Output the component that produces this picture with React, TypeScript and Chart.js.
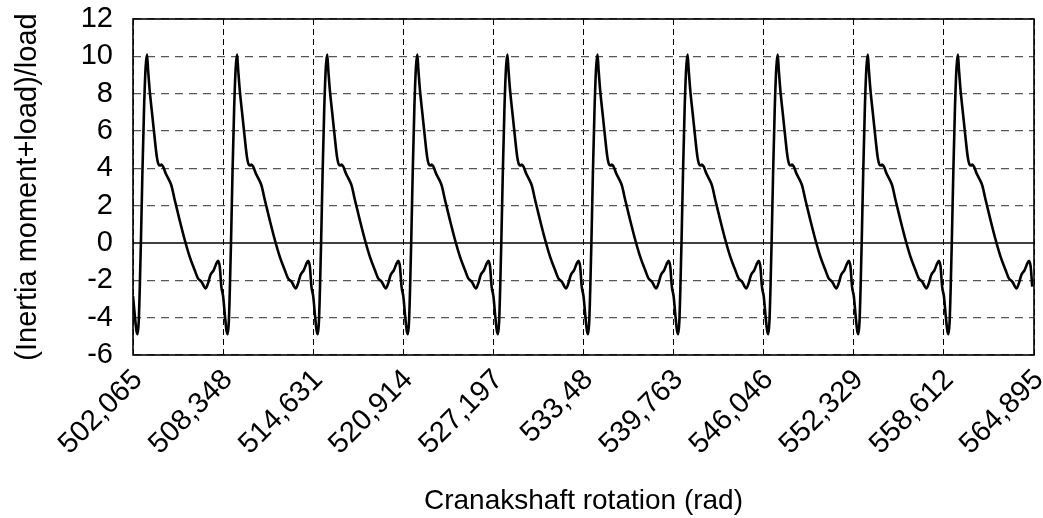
import { useEffect, useRef } from "react";
import { Chart, registerables } from "chart.js";

Chart.register(...registerables);

// X axis tick positions (rad) and their printed labels
const tickValues = [502.065, 508.348, 514.631, 520.914, 527.197, 533.48, 539.763, 546.046, 552.329, 558.612, 564.895];
const tickLabels = ["502,065", "508,348", "514,631", "520,914", "527,197", "533,48", "539,763", "546,046", "552,329", "558,612", "564,895"];

// Y axis ticks
const yTicks = [-6, -4, -2, 0, 2, 4, 6, 8, 10, 12];

// Start of each crankshaft cycle (rad)
const cycleStarts = [502.065, 508.348, 514.631, 520.914, 527.197, 533.48, 539.763, 546.046, 552.329, 558.612];

const cycleOffsets = [0, 0.14, 0.24, 0.32, 0.4, 0.48, 0.55, 0.66, 0.77, 0.88, 0.976, 1.05, 1.16, 1.33, 1.5, 1.66, 1.79, 1.9, 1.98, 2.09, 2.28, 2.51, 2.68, 2.91, 3.26, 3.61, 3.95, 4.3, 4.53, 4.77, 5.07, 5.23, 5.4, 5.63, 5.77, 5.93, 6.05, 6.16];
const cycleValues = [-2.85, -4.0, -4.7, -4.88, -4.2, -2.2, 0, 3.9, 7.2, 9.4, 10.1, 9.3, 8.2, 6.95, 5.7, 4.63, 4.2, 4.15, 4.2, 4.1, 3.73, 3.38, 3.07, 2.3, 1.2, 0.16, -0.73, -1.45, -1.89, -2.07, -2.43, -2.16, -1.71, -1.45, -1.18, -0.95, -1.27, -2.34];

const xTitle = "Cranakshaft rotation (rad)";
const yTitle = "(Inertia moment+load)/load";

const FONT = "'Liberation Sans', Arial, Helvetica, sans-serif";

const framePlugin = {
  id: "frameAndZero",
  beforeDatasetsDraw(chart: any) {
    const { ctx, chartArea, scales } = chart;
    const y0 = scales.y.getPixelForValue(0);
    ctx.save();
    ctx.strokeStyle = "#000";
    ctx.lineWidth = 1.3;
    ctx.setLineDash([]);
    ctx.beginPath();
    ctx.moveTo(chartArea.left, y0);
    ctx.lineTo(chartArea.right, y0);
    ctx.stroke();
    ctx.restore();
  },
  afterDatasetsDraw(chart: any) {
    const { ctx, chartArea } = chart;
    ctx.save();
    ctx.strokeStyle = "#000";
    ctx.lineWidth = 1.6;
    ctx.setLineDash([]);
    ctx.strokeRect(chartArea.left, chartArea.top, chartArea.right - chartArea.left, chartArea.bottom - chartArea.top);
    ctx.restore();
  },
};

export default function App() {
  const canvasRef = useRef<HTMLCanvasElement | null>(null);

  useEffect(() => {
    document.body.style.margin = "0";
    const points: { x: number; y: number }[] = [];
    cycleStarts.forEach((start) => {
      cycleOffsets.forEach((off, i) => {
        points.push({ x: start + off, y: cycleValues[i] });
      });
    });

    const chart = new Chart(canvasRef.current as HTMLCanvasElement, {
      type: "line",
      data: {
        datasets: [
          {
            data: points,
            borderColor: "#000",
            borderWidth: 2.6,
            pointRadius: 0,
            cubicInterpolationMode: "monotone",
            fill: false,
          },
        ],
      },
      options: {
        animation: false,
        responsive: true,
        maintainAspectRatio: false,
        parsing: false,
        layout: { padding: { top: 19, right: 9, left: 0, bottom: 0 } },
        plugins: { legend: { display: false }, tooltip: { enabled: false } },
        scales: {
          x: {
            type: "linear",
            min: tickValues[0],
            max: tickValues[tickValues.length - 1],
            afterBuildTicks: (s: any) => {
              s.ticks = tickValues.map((v) => ({ value: v }));
            },
            afterFit: (s: any) => {
              s.height = 163;
              s.paddingLeft = 0;
              s.paddingRight = 0;
            },
            ticks: {
              autoSkip: false,
              minRotation: 45,
              maxRotation: 45,
              padding: 8,
              labelOffset: 5,
              color: "#000",
              font: { family: FONT, size: 29 },
              callback: (_v: any, i: number) => tickLabels[i],
            },
            grid: { color: "#000", lineWidth: 1, drawTicks: false, tickLength: 0 },
            border: { display: false, dash: [6, 4] },
            title: {
              display: true,
              text: xTitle,
              color: "#000",
              font: { family: FONT, size: 28 },
              padding: { top: 8, bottom: 0 },
            },
          },
          y: {
            type: "linear",
            min: yTicks[0],
            max: yTicks[yTicks.length - 1],
            afterBuildTicks: (s: any) => {
              s.ticks = yTicks.map((v) => ({ value: v }));
            },
            ticks: { autoSkip: false, padding: 20, color: "#000", font: { family: FONT, size: 29 } },
            afterFit: (s: any) => {
              s.width = 133;
              s.paddingTop = 0;
              s.paddingBottom = 0;
            },
            grid: {
              color: (c: any) => (c.tick && c.tick.value === 0 ? "rgba(0,0,0,0)" : "#555"),
              lineWidth: 1.3,
              drawTicks: false,
              tickLength: 0,
            },
            border: { display: false, dash: [8, 6] },
            title: {
              display: true,
              text: yTitle,
              color: "#000",
              font: { family: FONT, size: 29 },
              padding: { top: 11, bottom: 0 },
            },
          },
        },
      } as any,
      plugins: [framePlugin],
    });
    return () => chart.destroy();
  }, []);

  return (
    <div style={{ position: "relative", width: "1043px", height: "518px" }}>
      <canvas ref={canvasRef} />
    </div>
  );
}
